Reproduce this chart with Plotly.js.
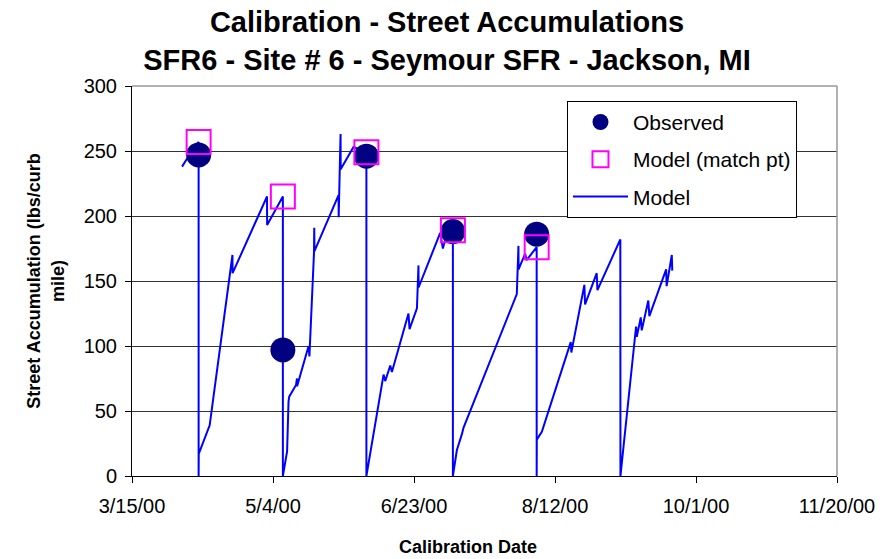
<!DOCTYPE html>
<html>
<head>
<meta charset="utf-8">
<script src="https://cdn.plot.ly/plotly-3.0.1.min.js"></script>
<style>
  html, body { margin: 0; padding: 0; background: #ffffff; }
  #chart { width: 880px; height: 559px; }
</style>
</head>
<body>
<div id="chart"></div>
<script>
// Observed street accumulation samples and the model value at each sample date
const obsDates = ['2000-04-07 15:00', '2000-05-07 12:00', '2000-06-06 03:00', '2000-07-06 19:00', '2000-08-05 12:00'];
const obsValues = [247, 97, 246, 188, 186];
const matchValues = [257, 215, 249, 189, 176];

// Continuous model trace (lbs/curb mile); resets to zero at each sweeping/sample date
const modelDates = [
  '2000-04-01 18:00', '2000-04-03 12:00', '2000-04-07 15:00', '2000-04-07 15:00', '2000-04-07 16:00',
  '2000-04-11 13:00', '2000-04-19 03:00', '2000-04-19 15:00', '2000-04-19 16:00', '2000-05-01 21:00',
  '2000-05-01 22:00', '2000-05-07 12:00', '2000-05-07 12:00',
  '2000-05-09 00:00', '2000-05-09 12:00', '2000-05-09 18:00', '2000-05-12 04:00', '2000-05-12 12:00',
  '2000-05-12 13:00', '2000-05-16 15:00', '2000-05-16 22:00', '2000-05-18 13:00', '2000-05-18 15:00',
  '2000-05-18 17:00', '2000-05-27 06:00', '2000-05-27 07:00', '2000-05-27 23:00', '2000-05-28 00:00',
  '2000-06-01 13:00', '2000-06-06 03:00', '2000-06-06 03:00',
  '2000-06-12 05:00', '2000-06-12 19:00', '2000-06-14 14:00', '2000-06-15 04:00', '2000-06-21 01:00',
  '2000-06-21 10:00', '2000-06-24 01:00', '2000-06-24 14:00', '2000-06-24 15:00', '2000-07-02 07:00',
  '2000-07-03 06:00', '2000-07-03 17:00', '2000-07-06 19:00', '2000-07-06 19:00',
  '2000-07-08 05:00', '2000-07-09 23:00', '2000-07-10 13:00', '2000-07-29 11:00', '2000-07-30 01:00',
  '2000-07-30 02:00', '2000-08-01 10:00', '2000-08-01 22:00', '2000-08-05 12:00', '2000-08-05 12:00',
  '2000-08-05 13:00', '2000-08-07 08:00', '2000-08-17 08:00', '2000-08-17 14:00', '2000-08-17 19:00',
  '2000-08-22 10:00', '2000-08-22 16:00', '2000-08-26 19:00', '2000-08-27 01:00', '2000-09-04 04:00',
  '2000-09-04 05:00',
  '2000-09-09 09:00', '2000-09-09 18:00', '2000-09-10 00:00', '2000-09-11 10:00', '2000-09-11 18:00',
  '2000-09-14 02:00', '2000-09-14 11:00', '2000-09-20 10:00', '2000-09-20 14:00', '2000-09-22 10:00',
  '2000-09-22 14:00'
];
const modelValues = [
  238, 244, 257, 0, 17,
  39, 158, 170, 156, 215,
  193, 215, 0,
  19, 57, 61, 70, 75,
  69, 100, 92, 172, 191,
  173, 216, 199, 263, 236,
  253, 249, 0,
  78, 73, 85, 80, 125,
  113, 129, 162, 145, 187,
  175, 179, 189, 0,
  20, 32, 37, 140, 177,
  159, 171, 166, 176, 0,
  28, 34, 101, 103, 95,
  147, 132, 156, 143, 182,
  0,
  104, 115, 107, 122, 112,
  135, 123, 159, 146, 170,
  158
];

// Axis ticks: every 50 days
const xTickDates = ['2000-03-15', '2000-05-04', '2000-06-23', '2000-08-12', '2000-10-01', '2000-11-20'];
const xTickLabels = ['3/15/00', '5/4/00', '6/23/00', '8/12/00', '10/1/00', '11/20/00'];
const yTickValues = [0, 50, 100, 150, 200, 250, 300];

const FONT = 'Arial, "Liberation Sans", sans-serif';

const traces = [
  {
    type: 'scatter', mode: 'lines', name: 'Model',
    x: modelDates, y: modelValues,
    line: { color: '#0000FF', width: 2 },
    legendrank: 3, legendgroup: 'c', hoverinfo: 'skip'
  },
  {
    type: 'scatter', mode: 'markers', name: 'Observed',
    x: obsDates, y: obsValues,
    marker: { symbol: 'circle', size: 25, color: '#000080' },
    legendrank: 1, legendgroup: 'a'
  },
  {
    type: 'scatter', mode: 'markers', name: 'Model (match pt)',
    x: obsDates, y: matchValues,
    marker: { symbol: 'square-open', size: 24, color: '#FF00FF', line: { width: 2, color: '#FF00FF' } },
    legendrank: 2, legendgroup: 'b'
  }
];

const layout = {
  width: 880, height: 559,
  paper_bgcolor: '#ffffff', plot_bgcolor: '#ffffff',
  margin: { l: 132, r: 43, t: 86, b: 83 },
  font: { family: FONT, color: '#000000', size: 20 },
  title: {
    text: '<b>Calibration - Street Accumulations<br>SFR6 - Site # 6 - Seymour SFR - Jackson, MI</b>',
    font: { family: FONT, size: 29, color: '#000000' },
    x: 0.508, xanchor: 'center', xref: 'container',
    y: 0.942, yanchor: 'top', yref: 'container'
  },
  xaxis: {
    type: 'date',
    range: ['2000-03-15', '2000-11-20'],
    tickmode: 'array', tickvals: xTickDates, ticktext: xTickLabels,
    ticks: 'outside', ticklen: 6, tickcolor: '#000000', tickwidth: 1,
    ticklabelstandoff: 6,
    showgrid: false, zeroline: false,
    showline: true, linecolor: '#000000', linewidth: 1,
    tickfont: { family: FONT, size: 20 },
    automargin: false
  },
  yaxis: {
    range: [0, 300],
    tickmode: 'array', tickvals: yTickValues,
    ticks: 'outside', ticklen: 6, tickcolor: '#000000', tickwidth: 1,
    ticklabelstandoff: 4,
    showgrid: true, gridcolor: '#333333', gridwidth: 1,
    zeroline: false,
    showline: true, linecolor: '#000000', linewidth: 1,
    tickfont: { family: FONT, size: 20 },
    title: { text: '<b>Street Accumulation (lbs/curb<br>mile)</b>', font: { family: FONT, size: 18 }, standoff: 14 },
    automargin: false
  },
  annotations: [
    {
      text: '<b>Calibration Date</b>', font: { family: FONT, size: 18, color: '#000000' },
      xref: 'paper', yref: 'paper', x: 0.476, y: -0.182,
      xanchor: 'center', yanchor: 'middle', showarrow: false
    }
  ],
  showlegend: true,
  legend: {
    x: 0.617, y: 0.962, xanchor: 'left', yanchor: 'top',
    bgcolor: '#ffffff', bordercolor: '#000000', borderwidth: 1,
    font: { family: FONT, size: 21 },
    traceorder: 'grouped', tracegroupgap: 7,
    itemsizing: 'trace', itemwidth: 55
  },
  shapes: [
    // light frame along the top and right of the plotting area
    { type: 'line', xref: 'paper', yref: 'paper', x0: 0, x1: 1, y0: 1, y1: 1, line: { color: '#999999', width: 1.5 } },
    { type: 'line', xref: 'paper', yref: 'paper', x0: 1, x1: 1, y0: 0, y1: 1, line: { color: '#999999', width: 1.5 } }
  ]
};

Plotly.newPlot('chart', traces, layout, { staticPlot: true, displayModeBar: false });
</script>
</body>
</html>
